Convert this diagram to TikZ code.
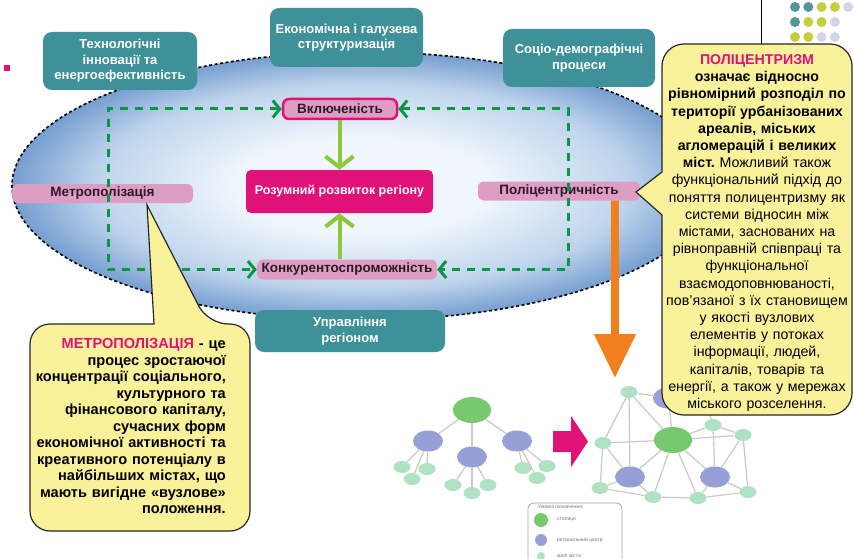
\documentclass[tikz,border=0pt]{standalone}
\usepackage{fontspec}
\setmainfont{Liberation Sans}
\usetikzlibrary{arrows.meta,shapes.geometric}
\definecolor{tealbox}{RGB}{62,145,153}
\definecolor{pinkbox}{RGB}{222,158,196}
\definecolor{magbox}{RGB}{224,18,120}
\definecolor{callyel}{RGB}{250,241,155}
\definecolor{dgreen}{RGB}{10,150,70}
\definecolor{lgreen}{RGB}{140,200,60}
\definecolor{orangeA}{RGB}{240,128,30}
\definecolor{ellout}{RGB}{118,158,208}
\definecolor{ellmid}{RGB}{190,212,236}
\definecolor{ellin}{RGB}{240,246,252}
\definecolor{netgreen}{RGB}{120,200,110}
\definecolor{netblue}{RGB}{150,160,215}
\definecolor{netsmall}{RGB}{175,225,195}
\definecolor{netedge}{RGB}{200,200,200}
\definecolor{dotteal}{RGB}{85,150,150}
\definecolor{dotyel}{RGB}{200,205,60}
\definecolor{dotlav}{RGB}{212,212,236}
\definecolor{darktext}{RGB}{45,25,40}
\pgfdeclareradialshading{ellshade}{\pgfpoint{0bp}{0bp}}{color(0bp)=(ellin); color(9bp)=(ellin); color(19bp)=(ellmid); color(25bp)=(ellout); color(50bp)=(ellout)}
\begin{document}
\frenchspacing
\begin{tikzpicture}[x=1pt,y=-1pt,
  tealnode/.style={fill=tealbox, rounded corners=9pt, text=white, align=center, inner sep=0pt,
    font=\bfseries\fontsize{13}{15.5}\selectfont},
  pinknode/.style={fill=pinkbox, rounded corners=6pt, text=darktext, inner sep=0pt,
    font=\bfseries\fontsize{13.5}{15}\selectfont},
  magnode/.style={fill=magbox, rounded corners=5pt, text=white, inner sep=0pt,
    font=\bfseries\fontsize{12.5}{14}\selectfont},
  gdash/.style={draw=dgreen, line width=3pt, dash pattern=on 8pt off 7pt,
    {Straight Barb[length=7pt,width=17pt]}-{Straight Barb[length=7pt,width=17pt]}},
  lgarrow/.style={draw=lgreen, line width=4pt, -{Straight Barb[length=11pt,width=28pt]}},
  callout/.style={fill=callyel, draw=black!85, line width=1.2pt},
  bigG/.style={ellipse, fill=netgreen, minimum width=38pt, minimum height=26pt, inner sep=0pt},
  regB/.style={ellipse, fill=netblue, minimum width=30pt, minimum height=21pt, inner sep=0pt},
  smallS/.style={ellipse, fill=netsmall, minimum width=17pt, minimum height=12pt, inner sep=0pt},
  netline/.style={draw=netedge, line width=1.2pt},
  legtext/.style={anchor=west, text=black!55, inner sep=0pt, font=\fontsize{5}{6}\selectfont},
  dotc/.style={circle, minimum size=10pt, inner sep=0pt}
]
\useasboundingbox (0,0) rectangle (854,559);

% ellipse
\path[shading=ellshade] (362,186) ellipse [x radius=350pt, y radius=134pt];
\draw[black, line width=1.6pt, dash pattern=on 3pt off 2.5pt] (362,186) ellipse [x radius=350pt, y radius=134pt];

% small magenta square
\fill[magbox] (4,65) rectangle (10,71);

% orange arrow (behind labels)
\coordinate (orS) at (615,195);
\coordinate (orE) at (615,378);
\draw[orangeA, line width=8pt, -{Triangle[length=44pt,width=40pt]}] (orS) -- (orE);

% teal boxes
\node[tealnode, minimum width=154pt, minimum height=58pt] (tech) at (120,61) {Технологічні\\інновації та\\енергоефективність};
\node[tealnode, minimum width=153pt, minimum height=59pt] (econ) at (346.5,37.5) {Економічна і галузева\\структуризація};
\node[tealnode, minimum width=152pt, minimum height=58pt] (socio) at (579,58) {Соціо-демографічні\\процеси};
\node[tealnode, minimum width=190pt, minimum height=42pt] (upr) at (350,331) {Управління\\регіоном};

% pink labels
\node[pinknode, minimum width=181pt, minimum height=19pt] (metro) at (102.5,193.5) {Метрополізація};
\node[pinknode, minimum width=162pt, minimum height=19pt] (poly) at (559,191) {Поліцентричність};
\node[pinknode, draw=magbox, line width=2.5pt, minimum width=114pt, minimum height=20pt] (vkl) at (340,109) {Включеність};
\node[pinknode, minimum width=180pt, minimum height=20pt] (konk) at (347,269.5) {Конкурентоспроможність};
\node[magnode, minimum width=187pt, minimum height=43pt] (mag) at (339.5,191.5) {Розумний розвиток регіону};

% green dashed brackets
\path[gdash] (vkl.west) -| (108,190) |- (konk.west);
\path[gdash] (vkl.east) -| (568,190) |- (konk.east);

% light green arrows
\draw[lgarrow] (vkl.south -| mag.north) -- (mag.north);
\draw[lgarrow] (konk.north -| mag.south) -- (mag.south);

% left tree network
\node[bigG] (t0) at (472,410) {};
\node[regB] (t1) at (428,441) {};
\node[regB] (t2) at (472,457) {};
\node[regB] (t3) at (517,441) {};
\node[smallS] (a1) at (402,467) {};
\node[smallS] (a2) at (427,469) {};
\node[smallS] (a3) at (412,479) {};
\node[smallS] (b1) at (453,485) {};
\node[smallS] (b2) at (488,485) {};
\node[smallS] (b3) at (472,493) {};
\node[smallS] (c1) at (523,468) {};
\node[smallS] (c2) at (547,466) {};
\node[smallS] (c3) at (537,478) {};
\foreach \u/\v in {t0/t1,t0/t2,t0/t3,t1/a1,t1/a2,t1/a3,t2/b1,t2/b2,t2/b3,t3/c1,t3/c2,t3/c3}
  \draw[netline] (\u) -- (\v);

% magenta block arrow
\fill[magbox] (553,431) -- (571,431) -- (571,416) -- (588,441.5) -- (571,467) -- (571,452) -- (553,452) -- cycle;

% right network
\node[bigG] (G) at (673,440) {};
\node[regB] (B1) at (630,477) {};
\node[regB] (B2) at (715,477) {};
\node[regB] (Bt) at (668,398) {};
\node[smallS] (s1) at (629,392) {};
\node[smallS] (s2) at (603,443) {};
\node[smallS] (s3) at (600,488) {};
\node[smallS] (s4) at (653,497) {};
\node[smallS] (s5) at (698,498) {};
\node[smallS] (s6) at (748,492) {};
\node[smallS] (s7) at (743,435) {};
\node[smallS] (s8) at (713,425) {};
\node[smallS] (s9) at (705,398) {};
\foreach \u/\v in {s1/Bt,s1/s2,s1/B1,s1/G,Bt/G,s2/G,s2/B1,s2/s3,s3/B1,s3/s4,B1/s4,B1/G,G/s4,G/s5,G/B2,G/s8,G/s7,s8/s7,s7/s6,s6/B2,B2/s5,s4/s5,B2/s8,s7/B2,s8/s9,s5/s6}
  \draw[netline] (\u) -- (\v);

% legend
\draw[black!35, line width=0.8pt, rounded corners=6pt] (528,503) rectangle (622,575);
\node[legtext] (legt) at (538,507) {Умовні позначення:};
\node[circle, fill=netgreen, minimum size=14pt, inner sep=0pt] (lg1) at (541,520) {};
\node[legtext] at (557,520) {столиця};
\node[circle, fill=netblue, minimum size=12pt, inner sep=0pt] (lg2) at (541,540) {};
\node[legtext] at (557,540) {регіональний центр};
\node[circle, fill=netsmall, minimum size=8pt, inner sep=0pt] (lg3) at (541,556) {};
\node[legtext] at (557,556) {малі міста};

% top-right decoration
\draw[black, line width=0.8pt] (761,0) -- (761,44);
\foreach \c [count=\i from 0] in {dotteal,dotteal,dotyel,dotyel,dotlav}
  \node[dotc, fill=\c] at (795+13.3*\i,7) {};
\foreach \c [count=\i from 0] in {dotteal,dotyel,dotyel,dotlav}
  \node[dotc, fill=\c] at (795+13.3*\i,22) {};
\foreach \c [count=\i from 0] in {dotyel,dotyel,dotlav,dotlav}
  \node[dotc, fill=\c] at (795+13.3*\i,37) {};

% left callout
\filldraw[callout] (100,324) [rounded corners=20pt] -- (30,324) -- (30,531) -- (250,531) -- (250,324) -- (208,324) [sharp corners] -- (147,205) -- (154,324) -- cycle;
\node[anchor=east, text width=215pt, align=right, inner sep=0pt,
  font=\bfseries\fontsize{14.6}{16.5}\selectfont] (metrotext) at (226,426)
  {{\color{magbox}МЕТРОПОЛІЗАЦІЯ} - це\\процес зростаючої\\концентрації соціального,\\культурного та\\фінансового капіталу,\\сучасних форм\\економічної активності та\\креативного потенціалу в\\найбільших містах, що\\мають вигідне «вузлове»\\положення.};

% right callout
\filldraw[callout] (662,300) [sharp corners] -- (662,215) -- (636,192) -- (662,172) [rounded corners=22pt] -- (662,44) -- (852,44) -- (852,415) -- (662,415) -- cycle;
\node[text width=200pt, align=center, inner sep=0pt,
  font=\fontsize{14.2}{17.2}\selectfont] (polytext) at (757,233)
  {\bfseries{\color{magbox}ПОЛІЦЕНТРИЗМ}\\означає відносно\\рівномірний розподіл по\\території урбанізованих\\ареалів, міських\\агломерацій і великих\\міст. \mdseries Можливий також\\функціональний підхід до\\поняття полицентризму як\\системи відносин між\\містами, заснованих на\\рівноправній співпраці та\\функціональної\\взаємодоповнюваності,\\пов'язаної з їх становищем\\у якості вузлових\\елементів у потоках\\інформації, людей,\\капіталів, товарів та\\енергії, а також у мережах\\міського розселення.};
\end{tikzpicture}
\end{document}
